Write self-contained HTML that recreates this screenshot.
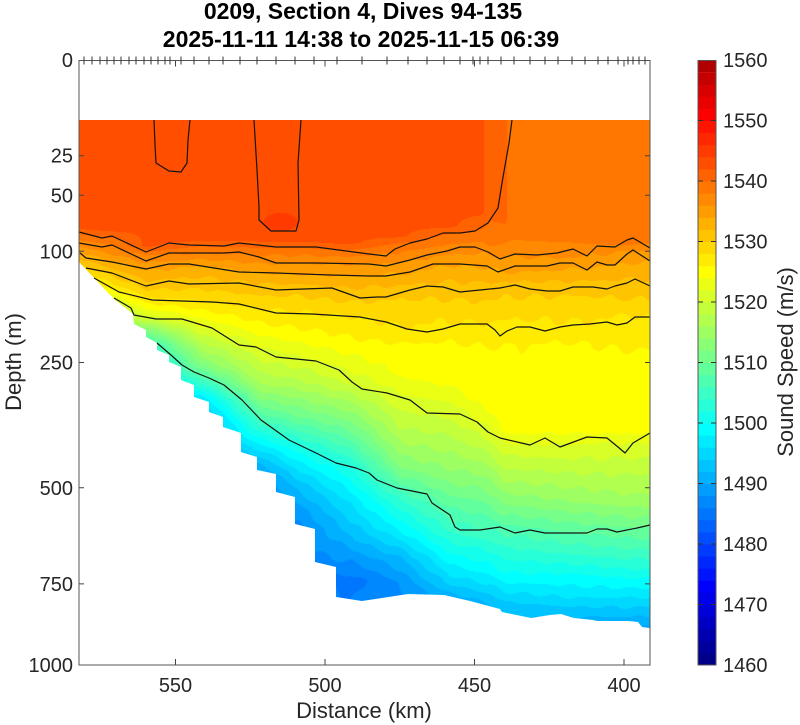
<!DOCTYPE html>
<html><head><meta charset="utf-8">
<style>
html,body{margin:0;padding:0;background:#fff;}
#wrap{position:relative;width:800px;height:725px;overflow:hidden;background:#fff;}
#f{position:absolute;left:79px;top:120px;width:571px;height:545px;
background:linear-gradient(to bottom,#ff4e00 0%,#ff4e00 20%,#ff8900 24%,#ffc400 30%,#ffff00 38%,#c4ff3b 50%,#62ff9d 62%,#00ffff 75%,#0089ff 88%,#009dff 100%);}
svg{position:absolute;left:0;top:0;}
text{font-family:"Liberation Sans",Arial,sans-serif;}
</style></head>
<body><div id="wrap">
<canvas id="f" width="571" height="545"></canvas>
<script>
(function(){
var C=[
[79,[[120,1539],[228,1539],[236,1536],[246,1533],[256,1530],[265,1527],[290,1520],[320,1512]]],
[114,[[120,1539],[230,1539],[240,1536],[250,1534],[262,1531],[273,1528],[285,1525],[298,1520],[320,1512],[350,1503]]],
[146,[[120,1539],[246,1539],[254,1535],[262,1533],[270,1531],[286,1528],[298,1525],[310,1521],[318,1518],[330,1510],[345,1502],[370,1495]]],
[200,[[120,1539],[240,1539],[248,1536],[256,1534],[265,1531],[283,1528],[302,1525],[320,1521],[340,1516],[367,1509],[383,1502],[400,1494],[420,1489]]],
[260,[[120,1539],[240,1539],[250,1536],[258,1534],[272,1531],[289,1528],[310,1525],[325,1523],[350,1519],[383,1514],[410,1507],[433,1500],[455,1493],[470,1489],[490,1486]]],
[300,[[120,1539],[240,1539],[250,1536],[263,1533],[274,1531],[289,1528],[313,1525],[330,1523],[359,1519],[383,1515],[417,1508],[446,1500],[460,1497],[483,1492],[510,1488],[530,1486]]],
[350,[[120,1539],[243,1539],[252,1536],[263,1533],[275,1531],[295,1528],[317,1525],[340,1523],[382,1518],[400,1514],[440,1506],[468,1500],[500,1495],[533,1491],[560,1487],[580,1484],[600,1485]]],
[400,[[120,1539],[236,1539],[245,1536],[261,1533],[273,1531],[291,1528],[310,1526],[329,1525],[345,1523],[370,1522],[398,1519],[433,1515],[467,1510],[488,1505],[500,1502],[533,1496],[560,1490],[583,1487],[600,1486]]],
[450,[[120,1539],[226,1539],[236,1536],[249,1534],[264,1531],[290,1528],[310,1526],[324,1525],[345,1523],[380,1522],[414,1518],[450,1514],[483,1510],[520,1504],[533,1502],[550,1499],[567,1496],[583,1493],[600,1489],[615,1487]]],
[482,[[120,1539],[212,1539],[226,1537],[240,1535],[252,1533],[266,1531],[290,1528],[324,1525],[350,1523],[400,1522],[425,1519],[460,1514],[500,1508],[530,1504],[550,1500],[570,1497],[590,1493],[605,1490]]],
[490,[[120,1537],[215,1537],[230,1536],[245,1535],[255,1533],[268,1531],[290,1528],[324,1525],[350,1523],[410,1522],[430,1519],[465,1514],[505,1508],[530,1504],[552,1500],[572,1497],[592,1493],[607,1490]]],
[505,[[120,1537],[220,1537],[235,1535.5],[250,1534],[262,1532],[272,1531],[287,1528],[310,1526],[333,1524],[350,1523],[430,1522],[445,1519],[480,1514],[510,1509],[530,1505],[555,1501],[575,1498],[595,1494],[610,1491]]],
[512,[[120,1535.4],[230,1535.4],[250,1534],[262,1532],[272,1531],[287,1528],[310,1526],[333,1524],[350,1523],[430,1522],[445,1519],[480,1514],[510,1509],[530,1505],[555,1501],[575,1498],[595,1494],[610,1491]]],
[570,[[120,1535.4],[235,1535.4],[250,1534],[263,1532],[275,1530],[287,1528],[305,1526],[325,1525],[345,1523],[360,1522.5],[430,1522],[440,1520],[470,1516],[500,1512],[533,1506],[555,1502],[575,1498],[595,1495],[610,1492],[620,1490]]],
[630,[[120,1535.4],[236,1535.4],[244,1535],[250,1533],[262,1531],[279,1529],[300,1527],[317,1525],[340,1524],[360,1522.5],[430,1522],[445,1519],[470,1516],[500,1513],[527,1508],[560,1502],[585,1497],[600,1494],[615,1491],[630,1488]]],
[645,[[120,1535.4],[200,1535.4],[212,1536.5],[236,1536.5],[242,1535],[250,1533],[262,1531],[279,1529],[300,1527],[317,1525],[340,1524],[360,1522.5],[430,1522],[445,1519],[470,1516],[500,1513],[527,1508],[560,1502],[585,1497],[600,1494],[615,1491],[630,1488]]],
[650,[[120,1535.4],[200,1535.4],[212,1536.5],[236,1536.5],[242,1535],[250,1533],[262,1531],[279,1529],[300,1527],[317,1525],[340,1524],[360,1522.5],[430,1522],[445,1519],[470,1516],[500,1513],[527,1508],[560,1502],[585,1497],[600,1494],[615,1491],[630,1488]]]
];
var PAL=['000089','00009d','0000b1','0000c4','0000d8','0000eb','0000ff','0014ff','0027ff','003bff','004eff','0062ff','0076ff','0089ff','009dff','00b1ff','00c4ff','00d8ff','00ebff','00ffff','14ffeb','27ffd8','3bffc4','4effb1','62ff9d','76ff89','89ff76','9dff62','b1ff4e','c4ff3b','d8ff27','ebff14','ffff00','ffeb00','ffd800','ffc400','ffb100','ff9d00','ff8900','ff7600','ff6200','ff4e00','ff3b00','ff2700','ff1400','ff0000','eb0000','d80000','c40000','b10000'];
var pr=[],pg=[],pb=[];
for(var q=0;q<50;q++){var h=PAL[q];pr[q]=parseInt(h.substr(0,2),16);pg[q]=parseInt(h.substr(2,2),16);pb[q]=parseInt(h.substr(4,2),16);}
var W=571,H=545,X0=79,Y0=120;
var cv=document.getElementById('f');
var ctx=cv.getContext('2d');
var img=ctx.createImageData(W,H),d=img.data;
function ip(p,y){if(y<=p[0][0])return p[0][1];for(var k=1;k<p.length;k++){if(y<=p[k][0]){var t=(y-p[k-1][0])/(p[k][0]-p[k-1][0]);return p[k-1][1]+t*(p[k][1]-p[k-1][1]);}}return p[p.length-1][1];}
var A=C.map(function(c){var a=new Float32Array(H);for(var j=0;j<H;j++)a[j]=ip(c[1],Y0+j+0.5);return a;});
for(var i=0;i<W;i++){
  var x=X0+i+0.5,k=0;
  while(k<C.length-2&&x>C[k+1][0])k++;
  var t=(x-C[k][0])/(C[k+1][0]-C[k][0]);if(t<0)t=0;if(t>1)t=1;
  var a0=A[k],a1=A[k+1];
  for(var j=0;j<H;j++){
    var y=Y0+j+0.5;
    var v=a0[j]*(1-t)+a1[j]*t;
    if(y>250)v+=0.35*Math.sin(x*0.21+y*0.05)*Math.cos(y*0.17-x*0.03);
    var ex=(x-281)/17,ey=(y-222)/9;
    if(ex*ex+ey*ey<1&&y<231)v=Math.max(v,1541);
    var vm=1460+1.044*(v-1460);
    var b=Math.floor((vm-1460)/2);if(b<0)b=0;if(b>49)b=49;
    var o=(j*W+i)*4;d[o]=pr[b];d[o+1]=pg[b];d[o+2]=pb[b];d[o+3]=255;
  }
}
ctx.putImageData(img,0,0);
})();
</script>
<svg width="800" height="725" viewBox="0 0 800 725" xmlns="http://www.w3.org/2000/svg">
<path fill="#ffffff" fill-rule="evenodd" d="M78,119 H651 V666 H78 Z
M79,120 L650,120 L650,628 L642,627 L638,622 L628,621 L597,621 L593,620 L574,618 L561,614 L550,615 L531,618 L502,612 L500,609 L470,601 L444,595 L408,594 L362,601 L336,597 L336,567 L315,562 L315,529 L295,524 L295,497 L276,492 L276,474 L257,470 L257,457 L241,452 L241,433 L223,427 L223,417 L209,412 L209,402 L194,397 L194,385 L181,380 L181,367 L169,362 L169,355 L157,350 L157,343 L146,337 L146,330 L134,324 L133,314 L114,299 L79,262 Z"/>

<g fill="none" stroke="#141414" stroke-width="1.2" stroke-linejoin="round">
<polyline points="154,120 155,145 156,163 169,171 181,172 187,163 188,140 190,120"/>
<polyline points="254,120 257,170 259,207 259,220 271,231 296,231 299,220 298,163 301,120"/>
<polyline points="79,232 102,238 112,236 146,252 169,243 189,245 224,246 239,243 276,247 316,247 369,254 386,256 395,249 410,243 427,239 443,233 460,233 475,231 488,223 498,208 502,183 506,160 509,143 512,120"/>
<polyline points="79,243 102,247 112,245 146,261 169,253 189,253 224,253 239,252 259,257 276,263 316,263 369,264 386,266 410,260 427,255 447,251 460,247 475,247 488,252 500,259 515,254 537,255 557,253 573,249 587,256 597,246 615,247 627,240 633,238 650,248"/>
<polyline points="80,253 86,258 112,262 146,269 169,264 189,264 239,272 276,273 330,275 369,276 386,276 410,272 433,264 460,264 487,266 498,272 515,266 547,266 560,263 573,263 587,270 597,262 607,265 615,265 627,254 633,250 650,261"/>
<polyline points="86,268 112,273 146,286 169,281 189,284 239,283 276,290 332,288 360,298 377,297 386,297 410,290 427,286 443,287 460,292 500,288 515,285 530,289 547,291 560,291 573,287 593,287 607,289 615,286 627,283 635,279 650,286"/>
<polyline points="94,278 119,292 152,300 212,302 239,304 276,313 312,314 360,317 386,322 407,329 427,332 443,329 460,324 487,324 495,330 500,336 507,331 517,327 530,327 545,331 560,327 573,325 590,324 607,322 617,325 627,323 635,317 650,317"/>
<polyline points="114,298 131,308 134,315 156,319 182,319 212,328 239,345 256,347 276,357 316,361 339,370 352,382 362,389 387,393 410,400 427,413 460,414 477,422 488,432 500,438 530,445 545,438 560,447 587,437 607,438 618,447 625,453 633,443 650,433"/>
<polyline points="157,343 171,355 182,365 194,372 209,378 224,385 242,400 261,420 289,440 316,453 336,463 356,468 369,473 377,480 397,488 427,494 432,503 450,515 455,527 460,530 480,530 500,527 515,533 530,530 545,533 587,533 597,529 607,529 617,532 637,528 650,525"/>
</g>

<rect x="79" y="60.5" width="571" height="604.5" fill="none" stroke="#555" stroke-width="1"/>
<g stroke="#444" stroke-width="1">
<path d="M79,155.7h5M79,195.3h5M79,251.3h5M79,362.5h5M79,487.8h5M79,583.9h5"/>
<path d="M650,155.7h-5M650,195.3h-5M650,251.3h-5M650,362.5h-5M650,487.8h-5M650,583.9h-5"/>
<path d="M175.5,665v-6M325,665v-6M474.5,665v-6M624,665v-6"/>
<path d="M175.5,60.5v6M325,60.5v6M474.5,60.5v6M624,60.5v6"/>
</g>
<path stroke="#333" stroke-width="1" fill="none" d="M84,56.5v8M92,56.5v8M100,56.5v8M107,56.5v8M114,56.5v8M121,56.5v8M129,56.5v8M136,56.5v8M144,56.5v8M151,56.5v8M158,56.5v8M165,56.5v8M170,56.5v8M181,56.5v8M194,56.5v8M209,56.5v8M223,56.5v8M240,56.5v8M257,56.5v8M276,56.5v8M295,56.5v8M314,56.5v8M337,56.5v8M362,56.5v8M387,56.5v8M408,56.5v8M427,56.5v8M444,56.5v8M460,56.5v8M473,56.5v8M480,56.5v8M488,56.5v8M501,56.5v8M514,56.5v8M530,56.5v8M545,56.5v8M558,56.5v8M572,56.5v8M585,56.5v8M598,56.5v8M608,56.5v8M618,56.5v8M628,56.5v8M633,56.5v8M639,56.5v8M645,56.5v8"/>

<text x="363" y="19" font-size="23" font-weight="bold" text-anchor="middle" fill="#000">0209, Section 4, Dives 94-135</text>
<text x="361" y="47" font-size="23" font-weight="bold" text-anchor="middle" fill="#000">2025-11-11 14:38 to 2025-11-15 06:39</text>

<g font-size="20" fill="#262626" text-anchor="end">
<text x="73" y="67">0</text>
<text x="73" y="162.7">25</text>
<text x="73" y="202.3">50</text>
<text x="73" y="258.3">100</text>
<text x="73" y="369.5">250</text>
<text x="73" y="494.8">500</text>
<text x="73" y="590.9">750</text>
<text x="73" y="672">1000</text>
</g>
<g font-size="20" fill="#262626" text-anchor="middle">
<text x="175.5" y="692">550</text>
<text x="325" y="692">500</text>
<text x="474.5" y="692">450</text>
<text x="624" y="692">400</text>
</g>
<text x="364" y="718" font-size="22" fill="#262626" text-anchor="middle">Distance (km)</text>
<text transform="translate(21,362) rotate(-90)" font-size="22" fill="#262626" text-anchor="middle">Depth (m)</text>

<g>
<rect x="698" y="652.9" width="18" height="12.6" fill="#000089"/>
<rect x="698" y="640.8" width="18" height="12.6" fill="#00009d"/>
<rect x="698" y="628.7" width="18" height="12.6" fill="#0000b1"/>
<rect x="698" y="616.6" width="18" height="12.6" fill="#0000c4"/>
<rect x="698" y="604.5" width="18" height="12.6" fill="#0000d8"/>
<rect x="698" y="592.4" width="18" height="12.6" fill="#0000eb"/>
<rect x="698" y="580.3" width="18" height="12.6" fill="#0000ff"/>
<rect x="698" y="568.2" width="18" height="12.6" fill="#0014ff"/>
<rect x="698" y="556.1" width="18" height="12.6" fill="#0027ff"/>
<rect x="698" y="544" width="18" height="12.6" fill="#003bff"/>
<rect x="698" y="531.9" width="18" height="12.6" fill="#004eff"/>
<rect x="698" y="519.8" width="18" height="12.6" fill="#0062ff"/>
<rect x="698" y="507.7" width="18" height="12.6" fill="#0076ff"/>
<rect x="698" y="495.6" width="18" height="12.6" fill="#0089ff"/>
<rect x="698" y="483.5" width="18" height="12.6" fill="#009dff"/>
<rect x="698" y="471.4" width="18" height="12.6" fill="#00b1ff"/>
<rect x="698" y="459.3" width="18" height="12.6" fill="#00c4ff"/>
<rect x="698" y="447.2" width="18" height="12.6" fill="#00d8ff"/>
<rect x="698" y="435.1" width="18" height="12.6" fill="#00ebff"/>
<rect x="698" y="423" width="18" height="12.6" fill="#00ffff"/>
<rect x="698" y="410.9" width="18" height="12.6" fill="#14ffeb"/>
<rect x="698" y="398.8" width="18" height="12.6" fill="#27ffd8"/>
<rect x="698" y="386.7" width="18" height="12.6" fill="#3bffc4"/>
<rect x="698" y="374.6" width="18" height="12.6" fill="#4effb1"/>
<rect x="698" y="362.5" width="18" height="12.6" fill="#62ff9d"/>
<rect x="698" y="350.4" width="18" height="12.6" fill="#76ff89"/>
<rect x="698" y="338.3" width="18" height="12.6" fill="#89ff76"/>
<rect x="698" y="326.2" width="18" height="12.6" fill="#9dff62"/>
<rect x="698" y="314.1" width="18" height="12.6" fill="#b1ff4e"/>
<rect x="698" y="302" width="18" height="12.6" fill="#c4ff3b"/>
<rect x="698" y="289.9" width="18" height="12.6" fill="#d8ff27"/>
<rect x="698" y="277.8" width="18" height="12.6" fill="#ebff14"/>
<rect x="698" y="265.7" width="18" height="12.6" fill="#ffff00"/>
<rect x="698" y="253.6" width="18" height="12.6" fill="#ffeb00"/>
<rect x="698" y="241.5" width="18" height="12.6" fill="#ffd800"/>
<rect x="698" y="229.4" width="18" height="12.6" fill="#ffc400"/>
<rect x="698" y="217.3" width="18" height="12.6" fill="#ffb100"/>
<rect x="698" y="205.2" width="18" height="12.6" fill="#ff9d00"/>
<rect x="698" y="193.1" width="18" height="12.6" fill="#ff8900"/>
<rect x="698" y="181" width="18" height="12.6" fill="#ff7600"/>
<rect x="698" y="168.9" width="18" height="12.6" fill="#ff6200"/>
<rect x="698" y="156.8" width="18" height="12.6" fill="#ff4e00"/>
<rect x="698" y="144.7" width="18" height="12.6" fill="#ff3b00"/>
<rect x="698" y="132.6" width="18" height="12.6" fill="#ff2700"/>
<rect x="698" y="120.5" width="18" height="12.6" fill="#ff1400"/>
<rect x="698" y="108.4" width="18" height="12.6" fill="#ff0000"/>
<rect x="698" y="96.3" width="18" height="12.6" fill="#eb0000"/>
<rect x="698" y="84.2" width="18" height="12.6" fill="#d80000"/>
<rect x="698" y="72.1" width="18" height="12.6" fill="#c40000"/>
<rect x="698" y="60" width="18" height="12.1" fill="#b10000"/>
</g>
<rect x="698" y="60.5" width="18" height="604.5" fill="none" stroke="#555" stroke-width="1"/>
<g stroke="#333" stroke-width="1">
<path d="M698,120.5h5M698,181h5M698,241.5h5M698,302h5M698,362.5h5M698,423h5M698,483.5h5M698,544h5M698,604.5h5"/>
<path d="M716,120.5h-5M716,181h-5M716,241.5h-5M716,302h-5M716,362.5h-5M716,423h-5M716,483.5h-5M716,544h-5M716,604.5h-5"/>
</g>
<g font-size="20" fill="#262626">
<text x="723" y="67">1560</text>
<text x="723" y="127.5">1550</text>
<text x="723" y="188">1540</text>
<text x="723" y="248.5">1530</text>
<text x="723" y="309">1520</text>
<text x="723" y="369.5">1510</text>
<text x="723" y="430">1500</text>
<text x="723" y="490.5">1490</text>
<text x="723" y="551">1480</text>
<text x="723" y="611.5">1470</text>
<text x="723" y="672">1460</text>
</g>
<text transform="translate(793,362) rotate(-90)" font-size="22" fill="#262626" text-anchor="middle">Sound Speed (m/s)</text>
</svg>
</div></body></html>
